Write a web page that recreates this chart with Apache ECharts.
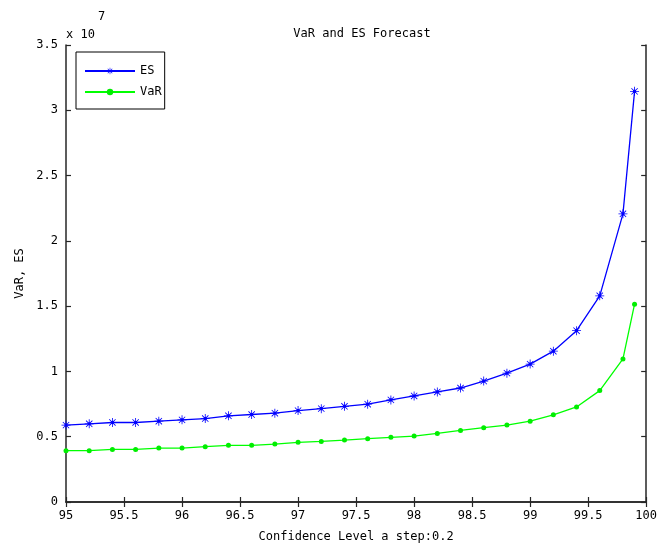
<!DOCTYPE html>
<html><head><meta charset="utf-8">
<script src="https://cdn.jsdelivr.net/npm/echarts@6/dist/echarts.min.js"></script>
<style>html,body{margin:0;padding:0;background:#fff}#c{width:660px;height:548px}</style>
</head><body><div id="c"></div>
<script>
// Confidence levels (%)
const levels = [95,95.2,95.4,95.6,95.8,96,96.2,96.4,96.6,96.8,97,97.2,97.4,97.6,97.8,98,98.2,98.4,98.6,98.8,99,99.2,99.4,99.6,99.8,99.9];
// values in units of 10^7
const esValues = [0.589,0.599,0.609,0.609,0.619,0.629,0.639,0.660,0.670,0.680,0.700,0.715,0.733,0.749,0.782,0.812,0.843,0.873,0.926,0.987,1.056,1.155,1.312,1.579,2.207,3.145];
const varValues = [0.393,0.393,0.403,0.403,0.413,0.413,0.424,0.434,0.434,0.444,0.457,0.464,0.474,0.485,0.495,0.505,0.525,0.548,0.569,0.589,0.619,0.668,0.728,0.853,1.096,1.515];
const seriesNames = ['ES','VaR'];
const titleText = 'VaR and ES Forecast';
const xName = 'Confidence Level a step:0.2';
const yName = 'VaR, ES';

const FONT = 'DejaVu Sans Mono';
const star = 'path://M-0.9,-10L0.9,-10L0.9,10L-0.9,10Z M-10,-0.9L10,-0.9L10,0.9L-10,0.9Z M-7.7,-6.4L-6.4,-7.7L7.7,6.4L6.4,7.7Z M6.4,-7.7L7.7,-6.4L-6.4,7.7L-7.7,6.4Z M-3.5,-3.5L3.5,-3.5L3.5,3.5L-3.5,3.5Z';

const chart = echarts.init(document.getElementById('c'));
const axisLine = {show:true, lineStyle:{color:'#262626', width:1.5}};
const tickIn = {show:true, inside:true, length:5, lineStyle:{color:'#262626', width:1.2}};
const lbl = {fontFamily:FONT, fontSize:12, color:'#000'};
chart.setOption({
  animation:false,
  backgroundColor:'#fff',
  title:{text:titleText, left:357, top:23, textAlign:'center',
    textStyle:{fontFamily:FONT, fontSize:12, fontWeight:'normal', color:'#000'}},
  grid:{left:66, right:13, top:45, bottom:44},
  legend:{left:76, top:52, orient:'vertical', data:seriesNames,
    borderColor:'#000', borderWidth:1, backgroundColor:'#fff',
    padding:[13,3,11,8], itemWidth:50, itemHeight:8, itemGap:9,
    textStyle:{fontFamily:FONT, fontSize:12, color:'#000'}},
  xAxis:[
    {type:'value', min:95, max:100, interval:0.5, position:'bottom',
     axisLine, axisTick:tickIn, splitLine:{show:false},
     axisLabel:Object.assign({margin:8}, lbl),
     name:xName, nameLocation:'middle', nameGap:29, nameTextStyle:lbl},
    {type:'value', min:95, max:100, interval:0.5, position:'top',
     axisLine, axisTick:tickIn, splitLine:{show:false}, axisLabel:{show:false}}
  ],
  yAxis:[
    {type:'value', min:0, max:3.5, interval:0.5, position:'left',
     axisLine, axisTick:tickIn, splitLine:{show:false},
     axisLabel:Object.assign({margin:8}, lbl),
     name:yName, nameLocation:'middle', nameGap:40, nameRotate:90, nameTextStyle:lbl},
    {type:'value', min:0, max:3.5, interval:0.5, position:'right',
     axisLine, axisTick:tickIn, splitLine:{show:false}, axisLabel:{show:false}}
  ],
  graphic:[
    {type:'text', left:66, top:29, style:{text:'x 10', fontFamily:FONT, fontSize:12, fill:'#000'}},
    {type:'text', left:98, top:11, style:{text:'7', fontFamily:FONT, fontSize:12, fill:'#000'}}
  ],
  series:[
    {name:seriesNames[0], type:'line', data:levels.map((x,i)=>[x, esValues[i]]),
     color:'#0000ff', lineStyle:{width:1.3, color:'#0000ff'},
     symbol:star, symbolSize:9, itemStyle:{color:'#0000ff'}},
    {name:seriesNames[1], type:'line', data:levels.map((x,i)=>[x, varValues[i]]),
     color:'#00ee00', lineStyle:{width:1.3, color:'#00ff00'},
     symbol:'circle', symbolSize:5, itemStyle:{color:'#00ee00'}}
  ]
});
</script></body></html>
